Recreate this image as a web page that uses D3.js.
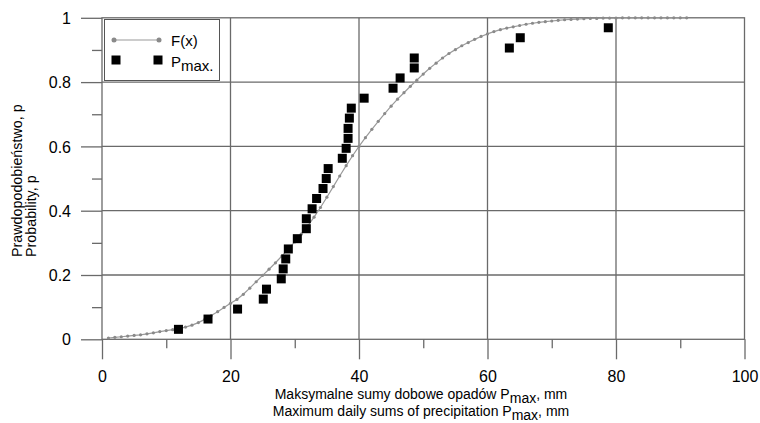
<!DOCTYPE html>
<html>
<head>
<meta charset="utf-8">
<style>
body { margin: 0; background: white; }
text { font-family: "Liberation Sans", Arial, sans-serif; fill: #000; }
.narrow { font-family: "Liberation Sans Narrow", "Arial Narrow", "Liberation Sans", sans-serif; }
</style>
<script src="https://d3js.org/d3.v7.min.js" charset="utf-8"></script>
</head>
<body>
<div id="chart"></div>
<script>
// observed annual maxima (mm) and their plotting positions
var pmaxValues = [11.9, 16.5, 21.1, 25.1, 25.6, 27.9, 28.2, 28.6, 29.0, 30.4,
                  31.8, 31.8, 32.7, 33.4, 34.4, 34.9, 35.2, 37.4, 38.0, 38.3,
                  38.3, 38.5, 38.8, 40.8, 45.3, 46.4, 48.6, 48.6, 63.4, 65.1, 78.8];
var pmaxProb = [0.031, 0.063, 0.094, 0.125, 0.156, 0.188, 0.219, 0.250, 0.281, 0.313,
                0.344, 0.375, 0.406, 0.438, 0.469, 0.500, 0.531, 0.563, 0.594, 0.625,
                0.656, 0.688, 0.719, 0.750, 0.781, 0.813, 0.844, 0.875, 0.906, 0.938, 0.969];
// fitted distribution F(x)
var curveX = [1, 2, 3, 4, 5, 6, 7, 8, 9, 10,
              11, 12, 13, 14, 15, 16, 17, 18, 19, 20,
              21, 22, 23, 24, 25, 26, 27, 28, 29, 30,
              31, 32, 33, 34, 35, 36, 37, 38, 39, 40,
              41, 42, 43, 44, 45, 46, 47, 48, 49, 50,
              51, 52, 53, 54, 55, 56, 57, 58, 59, 60,
              61, 62, 63, 64, 65, 66, 67, 68, 69, 70,
              71, 72, 73, 74, 75, 76, 77, 78, 79, 80,
              81, 82, 83, 84, 85, 86, 87, 88, 89, 90, 91];
var curveF = [0.004, 0.006, 0.008, 0.010, 0.012, 0.014, 0.017, 0.020, 0.024, 0.027,
              0.030, 0.033, 0.038, 0.044, 0.052, 0.062, 0.074, 0.086, 0.099, 0.112,
              0.124, 0.140, 0.159, 0.179, 0.199, 0.218, 0.238, 0.259, 0.281, 0.303,
              0.327, 0.352, 0.380, 0.410, 0.442, 0.475, 0.508, 0.540, 0.571, 0.600,
              0.627, 0.653, 0.678, 0.702, 0.725, 0.747, 0.767, 0.787, 0.806, 0.825,
              0.843, 0.859, 0.875, 0.889, 0.901, 0.913, 0.923, 0.933, 0.942, 0.950,
              0.957, 0.963, 0.968, 0.972, 0.976, 0.980, 0.983, 0.986, 0.988, 0.990,
              0.992, 0.994, 0.995, 0.996, 0.997, 0.998, 0.998, 0.999, 0.999, 0.999,
              1.000, 1.000, 1.000, 1.000, 1.000, 1.000, 1.000, 1.000, 1.000, 1.000, 1.000];
var xMajorTicks = [0, 20, 40, 60, 80, 100];
var xMinorTicks = [10, 30, 50, 70, 90];
var yMajorTicks = [0, 0.2, 0.4, 0.6, 0.8, 1];
var yMinorTicks = [0.1, 0.3, 0.5, 0.7, 0.9];

var WIDTH = 760, HEIGHT = 423;
var GRID = "#6a6a6a";

var svg = d3.select("#chart").append("svg")
    .attr("width", WIDTH)
    .attr("height", HEIGHT)
    .style("background", "white");

var x = d3.scaleLinear().domain([0, 100]).range([102, 744.5]);
var y = d3.scaleLinear().domain([0, 1]).range([339.3, 17.8]);

// gridlines
svg.append("g").selectAll("line")
    .data([20, 40, 60, 80])
    .enter().append("line")
    .attr("x1", function(d) { return x(d); })
    .attr("x2", function(d) { return x(d); })
    .attr("y1", y(1)).attr("y2", y(0))
    .attr("stroke", GRID).attr("stroke-width", 1.3);
svg.append("g").selectAll("line")
    .data([0.2, 0.4, 0.6, 0.8])
    .enter().append("line")
    .attr("x1", x(0)).attr("x2", x(100))
    .attr("y1", function(d) { return y(d); })
    .attr("y2", function(d) { return y(d); })
    .attr("stroke", GRID).attr("stroke-width", 1.3);

// frame
svg.append("rect")
    .attr("x", x(0)).attr("y", y(1))
    .attr("width", x(100) - x(0)).attr("height", y(0) - y(1))
    .attr("fill", "none").attr("stroke", GRID).attr("stroke-width", 1.3);

// axes
var styleAxis = function(g) {
    g.select(".domain").remove();
    g.selectAll(".tick line").attr("stroke", GRID).attr("stroke-width", 1.3);
    g.selectAll(".tick text").attr("font-size", "16px")
        .attr("font-family", "Liberation Sans, Arial, sans-serif").attr("fill", "#000");
};
var xAxis = svg.append("g")
    .attr("transform", "translate(0," + y(0) + ")")
    .call(d3.axisBottom(x).tickValues(xMajorTicks).tickSize(20).tickPadding(11)
          .tickFormat(d3.format("~g")));
styleAxis(xAxis);
xAxis.selectAll(".tick text").attr("dy", "0.71em");
var xMinor = svg.append("g")
    .attr("transform", "translate(0," + y(0) + ")")
    .call(d3.axisBottom(x).tickValues(xMinorTicks).tickSize(9).tickFormat(""));
styleAxis(xMinor);

var yAxis = svg.append("g")
    .attr("transform", "translate(" + x(0) + ",0)")
    .call(d3.axisLeft(y).tickValues(yMajorTicks).tickSize(21).tickPadding(10)
          .tickFormat(d3.format("~g")));
styleAxis(yAxis);
yAxis.selectAll(".tick text").attr("dy", "0.35em");
var yMinor = svg.append("g")
    .attr("transform", "translate(" + x(0) + ",0)")
    .call(d3.axisLeft(y).tickValues(yMinorTicks).tickSize(10).tickFormat(""));
styleAxis(yMinor);

// fitted curve
var curveData = curveX.map(function(d, i) { return {x: d, p: curveF[i]}; });
var line = d3.line()
    .x(function(d) { return x(d.x); })
    .y(function(d) { return y(d.p); });
svg.append("path")
    .datum(curveData)
    .attr("d", line)
    .attr("fill", "none")
    .attr("stroke", "#9a9a9a")
    .attr("stroke-width", 1.2);
svg.append("g").selectAll("circle")
    .data(curveData)
    .enter().append("circle")
    .attr("cx", function(d) { return x(d.x); })
    .attr("cy", function(d) { return y(d.p); })
    .attr("r", 1.6)
    .attr("fill", "#8a8a8a");

// observed points
var SQ = 9;
var pointData = pmaxValues.map(function(d, i) { return {x: d, p: pmaxProb[i]}; });
svg.append("g").selectAll("rect")
    .data(pointData)
    .enter().append("rect")
    .attr("x", function(d) { return x(d.x) - SQ / 2; })
    .attr("y", function(d) { return y(d.p) - SQ / 2; })
    .attr("width", SQ).attr("height", SQ)
    .attr("fill", "#000");

// legend
var legend = svg.append("g");
legend.append("rect")
    .attr("x", 104.5).attr("y", 19.5).attr("width", 115).attr("height", 61)
    .attr("fill", "white").attr("stroke", "#555").attr("stroke-width", 1);
legend.append("line")
    .attr("x1", 114).attr("x2", 159).attr("y1", 40).attr("y2", 40)
    .attr("stroke", "#9a9a9a").attr("stroke-width", 1.2);
legend.selectAll("circle")
    .data([114, 159])
    .enter().append("circle")
    .attr("cx", function(d) { return d; }).attr("cy", 40).attr("r", 2.5)
    .attr("fill", "#8a8a8a");
legend.append("text")
    .attr("x", 171).attr("y", 45.5).attr("font-size", "15px")
    .text("F(x)");
legend.selectAll("rect.sq")
    .data([116, 158])
    .enter().append("rect").attr("class", "sq")
    .attr("x", function(d) { return d - SQ / 2; }).attr("y", 60 - SQ / 2)
    .attr("width", SQ).attr("height", SQ).attr("fill", "#000");
var lt = legend.append("text")
    .attr("x", 171).attr("y", 67).attr("font-size", "15px");
lt.append("tspan").text("P");
lt.append("tspan").attr("dy", 4).text("max.");

// axis titles
var xt1 = svg.append("text").attr("class", "narrow")
    .attr("x", 421).attr("y", 399).attr("text-anchor", "middle").attr("font-size", "14px");
xt1.append("tspan").text("Maksymalne sumy dobowe opadów P");
xt1.append("tspan").attr("dy", 4).text("max");
xt1.append("tspan").attr("dy", -4).text(", mm");
var xt2 = svg.append("text").attr("class", "narrow")
    .attr("x", 421).attr("y", 416).attr("text-anchor", "middle").attr("font-size", "14px");
xt2.append("tspan").text("Maximum daily sums of precipitation P");
xt2.append("tspan").attr("dy", 3.5).text("max");
xt2.append("tspan").attr("dy", -3.5).text(", mm");

svg.append("text")
    .attr("transform", "translate(22,257) rotate(-90)")
    .attr("font-size", "14.3px")
    .text("Prawdopodobieństwo, p");
svg.append("text")
    .attr("transform", "translate(36,257) rotate(-90)")
    .attr("font-size", "14.3px")
    .text("Probability, p");
</script>
</body>
</html>
